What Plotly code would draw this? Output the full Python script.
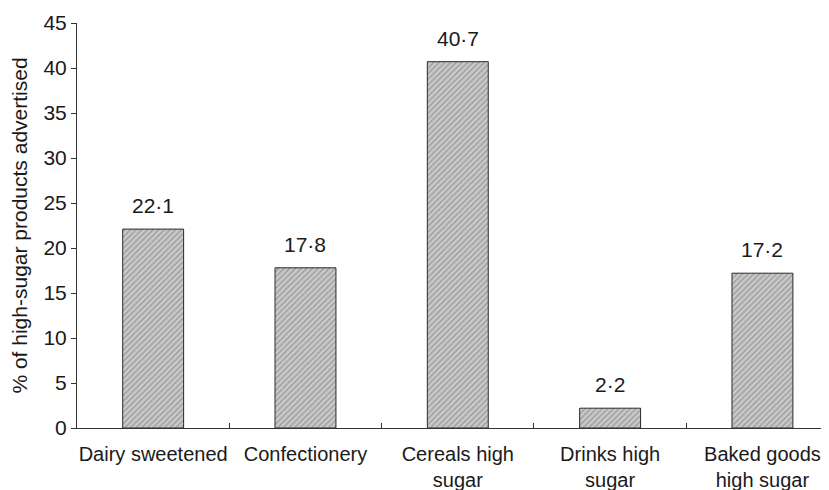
import plotly.graph_objects as go

categories = ["Dairy sweetened", "Confectionery", "Cereals high<br>sugar",
              "Drinks high<br>sugar", "Baked goods<br>high sugar"]
values = [22.1, 17.8, 40.7, 2.2, 17.2]
value_labels = ["22·1", "17·8", "40·7", "2·2", "17·2"]
y_ticks = [0, 5, 10, 15, 20, 25, 30, 35, 40, 45]

FONT = "Liberation Sans, Arial, sans-serif"
TXT = "#1a1a1a"

fig = go.Figure()
fig.add_trace(go.Bar(
    x=categories, y=values, width=0.4,
    marker=dict(color="#c9c9c9",
                line=dict(color="#2a2a2a", width=1),
                pattern=dict(shape="/", fgcolor="#666666", bgcolor="#c9c9c9",
                             size=4, solidity=0.3)),
    hoverinfo="skip",
))

for c, v, t in zip(categories, values, value_labels):
    fig.add_annotation(x=c, y=v, text=t, showarrow=False, yanchor="bottom",
                       yshift=10, font=dict(family=FONT, size=21, color=TXT))

# the page body adds an 8px offset, so the figure is sized to fill the window
fig.update_layout(
    width=821, height=482,
    margin=dict(l=69, r=0, t=15, b=62),
    paper_bgcolor="white", plot_bgcolor="white",
    showlegend=False,
    font=dict(family=FONT, size=21, color=TXT),
)
fig.update_xaxes(
    range=[-0.5, 4.437], showline=True, linecolor="#333", linewidth=1,
    ticks="inside", tickson="boundaries", ticklen=5, tickcolor="#333",
    showgrid=False, automargin=False, tickangle=0, ticklabelstandoff=8,
    tickfont=dict(family=FONT, size=20, color=TXT),
)
fig.update_yaxes(
    range=[0, 45], tickvals=y_ticks, showline=True, linecolor="#333", linewidth=1,
    ticks="outside", ticklen=5, tickcolor="#333", showgrid=False, zeroline=False,
    automargin=False,
    tickfont=dict(family=FONT, size=21, color=TXT),
    title=dict(text="% of high-sugar products advertised", standoff=12,
               font=dict(family=FONT, size=21, color=TXT)),
)

fig.write_html("out.html")
